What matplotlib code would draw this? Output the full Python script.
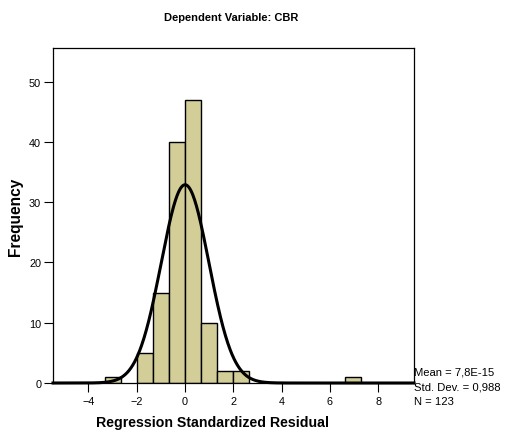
import numpy as np
import matplotlib
matplotlib.use("Agg")
import matplotlib.pyplot as plt

plt.rcParams['font.family'] = ['Liberation Sans', 'DejaVu Sans']

# Histogram data (bin width ~0.6625, edges aligned at 0)
bin_width = 0.6625
bin_index = [-5, -3, -2, -1, 0, 1, 2, 3, 10]
counts = [1, 5, 15, 40, 47, 10, 2, 2, 1]

mean_val = 7.8e-15
std_val = 0.988
n_val = 123

x_ticks = [-4, -2, 0, 2, 4, 6, 8]
y_ticks = [0, 10, 20, 30, 40, 50]

fig = plt.figure(figsize=(5.10, 4.35), dpi=100)
ax = fig.add_axes([53/510, 1 - 384/435, (414-53)/510, (384-49)/435])

lefts = [i * bin_width for i in bin_index]
ax.bar(lefts, counts, width=bin_width, align='edge', color='#d3ce98',
       edgecolor='black', linewidth=1.0, zorder=2)

xs = np.linspace(-5.47, 9.48, 600)
ys = n_val * bin_width / (std_val * np.sqrt(2 * np.pi)) * np.exp(-0.5 * ((xs - mean_val) / std_val) ** 2)
ax.plot(xs, ys, color='black', linewidth=2.2, zorder=3, clip_on=False)

ax.set_xlim(-5.47, 9.48)
ax.set_ylim(0, 55.6)
ax.set_xticks(x_ticks)
ax.set_yticks(y_ticks)
ax.tick_params(labelsize=7.8, length=6.5, width=0.8, direction='out', pad=2)
ax.tick_params(axis='x', pad=3)
for s in ax.spines.values():
    s.set_linewidth(0.9)

fig.text(213/510, 1 - 423/435, 'Regression Standardized Residual', ha='center', va='center',
         fontsize=10.2, fontweight='bold')
fig.text(16/510, 1 - 217/435, 'Frequency', ha='center', va='center', rotation=90,
         fontsize=11.2, fontweight='bold')
fig.text(231/510, 1 - 18/435, 'Dependent Variable: CBR', ha='center', va='center',
         fontsize=8.0, fontweight='bold')

fig.text(414/510, 1 - 373/435, 'Mean = 7,8E-15', fontsize=8.1, va='center', ha='left')
fig.text(414/510, 1 - 388/435, 'Std. Dev. = 0,988', fontsize=8.1, va='center', ha='left')
fig.text(414/510, 1 - 402/435, 'N = 123', fontsize=8.1, va='center', ha='left')

fig.savefig('out.png', dpi=100)
